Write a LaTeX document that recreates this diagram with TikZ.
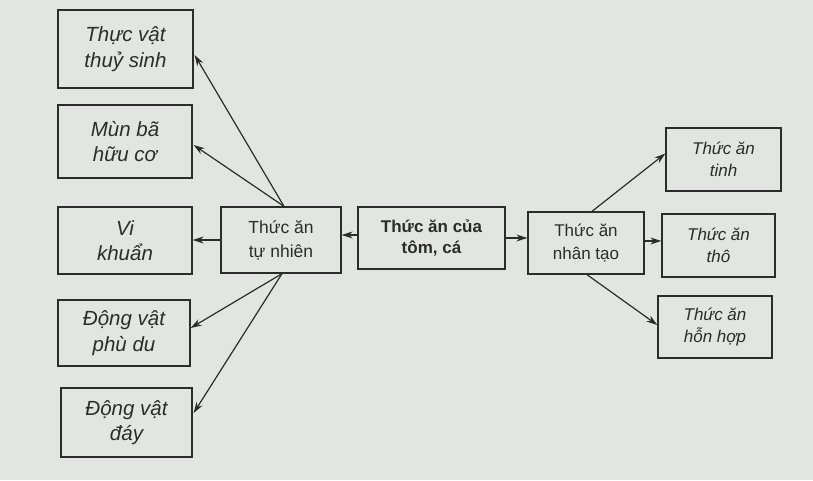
\documentclass[tikz,border=0pt]{standalone}
\usepackage{fontspec}
\setmainfont{Liberation Sans}
\usetikzlibrary{arrows.meta,calc}
\definecolor{paper}{HTML}{E3E5E2}
\definecolor{ink}{HTML}{2C2C2C}
\tikzset{
  box/.style={draw=ink, line width=1.3pt, inner sep=0pt, align=center, text=ink,
    font=\fontsize{17.5}{24}\selectfont},
  leaf/.style={box, font=\fontsize{20.5}{25.5}\selectfont\itshape},
  rleaf/.style={box, font=\fontsize{17}{22}\selectfont\itshape},
  main/.style={box, font=\fontsize{17}{21.5}\selectfont\bfseries},
  arr/.style={draw=ink, line width=1.2pt, -{Stealth[length=11pt,width=7pt]}}
}
\begin{document}
\begin{tikzpicture}[x=1pt,y=-1pt]
\fill[paper] (0,0) rectangle (813,480);
\useasboundingbox (0,0) rectangle (813,480);
% left column
\node[leaf, minimum width=135pt, minimum height=78pt] (L1) at (125.5,49) {Thực vật\\thuỷ sinh};
\node[leaf, minimum width=134pt, minimum height=73pt] (L2) at (125,141.5) {Mùn bã\\hữu cơ};
\node[leaf, minimum width=134pt, minimum height=67pt] (L3) at (125,240.5) {Vi\\khuẩn};
\node[leaf, minimum width=132pt, minimum height=66pt] (L4) at (124,333) {Động vật\\phù du};
\node[leaf, minimum width=131pt, minimum height=69pt] (L5) at (126.5,422.5) {Động vật\\đáy};
% middle
\node[box, minimum width=120pt, minimum height=66pt] (TN) at (281,240) {Thức ăn\\tự nhiên};
\node[main, minimum width=147pt, minimum height=62pt] (C) at (431.5,238) {Thức ăn của\\tôm, cá};
\node[box, font=\fontsize{17}{22.5}\selectfont, minimum width=116pt, minimum height=62pt] (NT) at (586,243) {Thức ăn\\nhân tạo};
% right column
\node[rleaf, minimum width=115pt, minimum height=63pt] (R1) at (723.5,159.5) {Thức ăn\\tinh};
\node[rleaf, minimum width=113pt, minimum height=63pt] (R2) at (718.5,245.5) {Thức ăn\\thô};
\node[rleaf, minimum width=114pt, minimum height=62pt] (R3) at (715,327) {Thức ăn\\hỗn hợp};
% connectors
\coordinate (tnTop) at ($(TN.north)+(3,0)$);
\coordinate (tnBot) at ($(TN.south)+(1,0)$);
\draw[arr] (tnTop) -- ($(L1.east)+(1,6)$);
\draw[arr] (tnTop) -- ($(L2.east)+(1,3.5)$);
\draw[arr] (TN.west) -- (TN.west -| L3.east);
\draw[arr] (tnBot) -- ($(L4.east)+(0,-5)$);
\draw[arr] (tnBot) -- ($(L5.east)+(1,-9.5)$);
\draw[arr] ($(C.west)+(0,-3)$) -- ($(C.west -| TN.east)+(0,-3)$);
\draw[arr] (C.east) -- (C.east -| NT.west);
\draw[arr] ($(NT.north)+(6,0)$) -- ($(R1.west)+(0,-6)$);
\draw[arr] ($(NT.east)+(0,-2)$) -- ($(NT.east -| R2.west)+(0,-2)$);
\draw[arr] ($(NT.south)+(1,0)$) -- ($(R3.west)+(0,-2)$);
\end{tikzpicture}
\end{document}
